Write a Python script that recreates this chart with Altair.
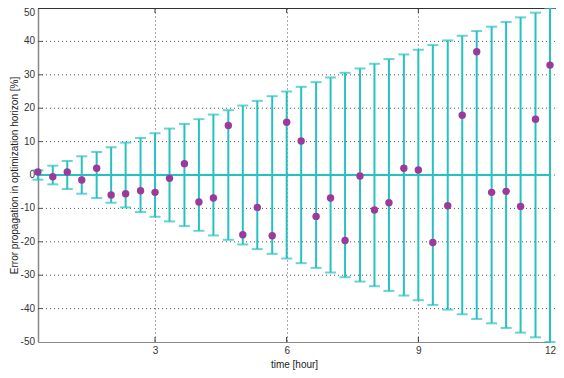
import altair as alt
import pandas as pd

# time steps [hour]
hours = [0.33, 0.67, 1.00, 1.33, 1.67, 2.00, 2.33, 2.67, 3.00, 3.33, 3.67, 4.00,
         4.33, 4.67, 5.00, 5.33, 5.67, 6.00, 6.33, 6.67, 7.00, 7.33, 7.67, 8.00,
         8.33, 8.67, 9.00, 9.33, 9.67, 10.00, 10.33, 10.67, 11.00, 11.33, 11.67, 12.00]
# observed error [%]
errors = [0.9, -0.5, 0.9, -1.5, 2.0, -6.0, -5.6, -4.7, -5.2, -1.0, 3.4, -8.1,
          -6.9, 14.8, -17.9, -9.7, -18.2, 15.8, 10.2, -12.4, -6.9, -19.6, -0.3, -10.5,
          -8.3, 2.0, 1.5, -20.2, -9.2, 17.9, 36.9, -5.2, -4.9, -9.4, 16.7, 32.9]
# propagated error bound (+/-) [%]
bounds = [1.4, 2.8, 4.2, 5.6, 6.9, 8.3, 9.7, 11.1, 12.5, 13.9, 15.3, 16.7,
          18.1, 19.4, 20.8, 22.2, 23.6, 25.0, 26.4, 27.8, 29.2, 30.6, 31.9, 33.3,
          34.7, 36.1, 37.5, 38.9, 40.3, 41.7, 43.1, 44.4, 45.8, 47.2, 48.6, 50.0]

x_ticks = [3, 6, 9, 12]
y_ticks = [-50, -40, -30, -20, -10, 0, 10, 20, 30, 40, 50]

df = pd.DataFrame({"t": hours, "err": errors, "lo": [-b for b in bounds], "hi": bounds})
xt = pd.DataFrame({"t": x_ticks})
yt = pd.DataFrame({"v": y_ticks[1:-1]})
ylab = pd.DataFrame({"v": y_ticks[:-1], "lab": [str(v) for v in y_ticks[:-1]]})
ylab_top = pd.DataFrame({"v": y_ticks[-1:], "lab": [str(v) for v in y_ticks[-1:]]})

TEAL = "#26C2C2"
PURPLE = "#9B3A9B"
GRID = "#555555"
FONT = "Liberation Sans"
XMIN, XMAX, XEDGE = 0.3333, 12.0, 12.13

xs = alt.Scale(domain=[XMIN, XMAX], nice=False, zero=False)
ys = alt.Scale(domain=[-50, 50], nice=False, zero=False)

xaxis = alt.Axis(values=x_ticks, title="time [hour]", grid=True, ticks=False,
                 labelPadding=3, titlePadding=4, domainColor="#888888", domainWidth=1,
                 labelFlush=False)
yaxis = alt.Axis(values=y_ticks, title="Error propagation in optimization horizon [%]",
                 grid=False, ticks=False, labels=False, domainColor="#888888",
                 domainWidth=1.5, titleX=-29, titleY=167, titleBaseline="top")

base = alt.Chart(df)

grid_base = base.mark_point(opacity=0).encode(
    x=alt.X("t:Q", scale=xs, axis=xaxis),
    y=alt.Y("err:Q", scale=ys, axis=yaxis),
)

y_grid = alt.Chart(yt).mark_rule(color=GRID, strokeDash=[1, 3], strokeWidth=1).encode(
    y="v:Q", x=alt.datum(XMIN), x2=alt.datum(XEDGE)
)

y_labels = alt.Chart(ylab).mark_text(align="right", baseline="middle", dx=-3,
                                     font=FONT, fontSize=10, color="#333333").encode(
    y="v:Q", x=alt.datum(XMIN), text="lab:N"
)
y_label_top = alt.Chart(ylab_top).mark_text(align="right", baseline="top", dx=-3, dy=0,
                                            font=FONT, fontSize=10, color="#333333").encode(
    y="v:Q", x=alt.datum(XMIN), text="lab:N"
)

zero_line = base.mark_rule(color=TEAL, strokeWidth=2).encode(
    x=alt.datum(XMIN, scale=xs), x2=alt.datum(12), y=alt.datum(0, scale=ys)
)

bars = base.mark_rule(color=TEAL, strokeWidth=2).encode(
    x="t:Q", y="lo:Q", y2="hi:Q"
)
cap_hi = base.mark_tick(color=TEAL, orient="horizontal", size=11, thickness=2).encode(
    x="t:Q", y="hi:Q"
)
cap_lo = base.mark_tick(color=TEAL, orient="horizontal", size=11, thickness=2).encode(
    x="t:Q", y="lo:Q"
)
pts = base.mark_circle(color=PURPLE, size=55, opacity=1).encode(x="t:Q", y="err:Q")

top_frame = base.mark_rule(color="#333333", strokeWidth=1).encode(
    x=alt.datum(XMIN), x2=alt.datum(XEDGE), y=alt.datum(50)
)
top_ticks = alt.Chart(xt).mark_rule(color="#333333").encode(
    x="t:Q", y=alt.datum(50), y2=alt.datum(48.5)
)
bot_ticks = alt.Chart(xt).mark_rule(color="#333333").encode(
    x="t:Q", y=alt.datum(-50), y2=alt.datum(-48.5)
)
left_ticks = alt.Chart(yt).mark_rule(color="#555555").encode(
    y="v:Q", x=alt.datum(XMIN), x2=alt.datum(XMIN + 0.11)
)

chart = alt.layer(
    grid_base, y_grid, y_labels, y_label_top, top_frame, top_ticks, bot_ticks, left_ticks,
    bars, cap_hi, cap_lo, zero_line, pts
).properties(
    width=512, height=334,
    autosize=alt.AutoSizeParams(type="none"),
    padding={"left": 30, "top": 0, "right": 6, "bottom": 30},
).configure_view(stroke=None).configure_axis(
    labelFont=FONT, titleFont=FONT,
    labelFontSize=10, titleFontSize=10, titleFontWeight="normal",
    labelColor="#333333", titleColor="#222222",
    gridColor=GRID, gridDash=[1, 3], gridWidth=1, gridOpacity=1,
)

chart.save("out.html", embed_options={"renderer": "svg", "actions": False})
